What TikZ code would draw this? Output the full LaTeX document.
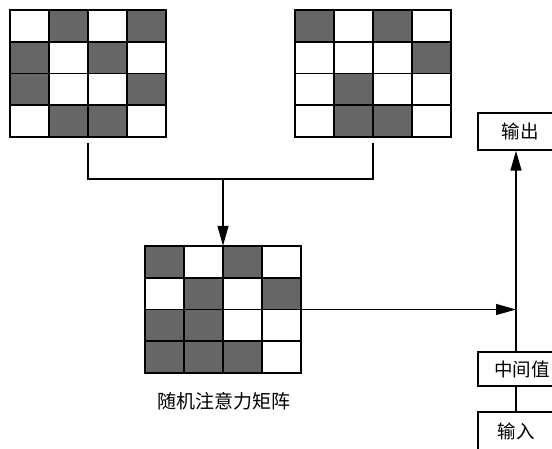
\documentclass[tikz,border=0pt]{standalone}
\usepackage{fontspec}
\newfontfamily\cjk{Noto Sans CJK SC}
\usetikzlibrary{arrows.meta,calc}

\definecolor{cellgray}{HTML}{666666}

\tikzset{
  conn/.style={line width=1.4pt, draw=black},
  arr/.style={conn, -{Triangle[length=20pt,width=11pt]}},
  labelbox/.style={draw=black, line width=1.4pt, inner sep=0pt,
    font=\cjk\fontsize{18.5}{22}\selectfont},
  gridframe/.style={inner sep=0pt, minimum width=156pt, minimum height=127pt}
}

% 4x4 attention grid: #1 node name, #2/#3 top-left corner, #4 list of dark cells row/col
\newcommand\attgrid[4]{%
  \foreach \r/\c in {#4}
    \fill[cellgray] ({#2+(\c-1)*39},{#3+(\r-1)*31.75}) rectangle ++(39,31.75);
  \foreach \i in {1,2,3} {
    \draw[line width=1.6pt] ({#2+\i*39},#3) -- ++(0,127);
    \draw[line width=1.6pt] (#2,{#3+\i*31.75}) -- ++(156,0);
  }
  \draw[line width=2.2pt] (#2,#3) rectangle ++(156,127);
  \node[gridframe] (#1) at ({#2+78},{#3+63.5}) {};
}

\begin{document}
\begin{tikzpicture}[x=1pt,y=-1pt]
\clip (0,0) rectangle (552,449);

% input grids and the combined random attention matrix
\attgrid{g1}{10}{10}{1/2,1/4,2/1,2/3,3/1,3/4,4/2,4/3}
\attgrid{g2}{295}{10}{1/1,1/3,2/4,3/2,4/2,4/3}
\attgrid{g3}{145}{246}{1/1,1/3,2/2,2/4,3/1,3/2,4/1,4/2,4/3}

\node[font=\cjk\fontsize{19}{22}\selectfont] (cap) at (224,401) {随机注意力矩阵};

% merge of the two grids into the matrix
\coordinate (bus) at ([yshift=-42pt]g1.south);
\draw[conn] ([yshift=-6pt]g1.south) -- (bus) -- (bus -| g2.south) -- ([yshift=-6pt]g2.south);
\draw[arr] (bus -| g3.north) -- (g3.north);

% right-hand data path
\coordinate (axis) at (516,0);
\node[labelbox, minimum width=84pt, minimum height=37pt] (out) at (520,131.5) {输出};
\node[labelbox, minimum width=88pt, minimum height=34pt] (mid) at (522,369) {中间值};
\node[labelbox, minimum width=76pt, minimum height=38pt] (inp) at (516,431) {输入};

\draw[conn] (inp.north -| axis) -- (mid.south -| axis);
\draw[arr] (mid.north -| axis) -- (out.south -| axis);
\draw[arr] (g3.east) -- (g3.east -| axis);
\end{tikzpicture}
\end{document}
